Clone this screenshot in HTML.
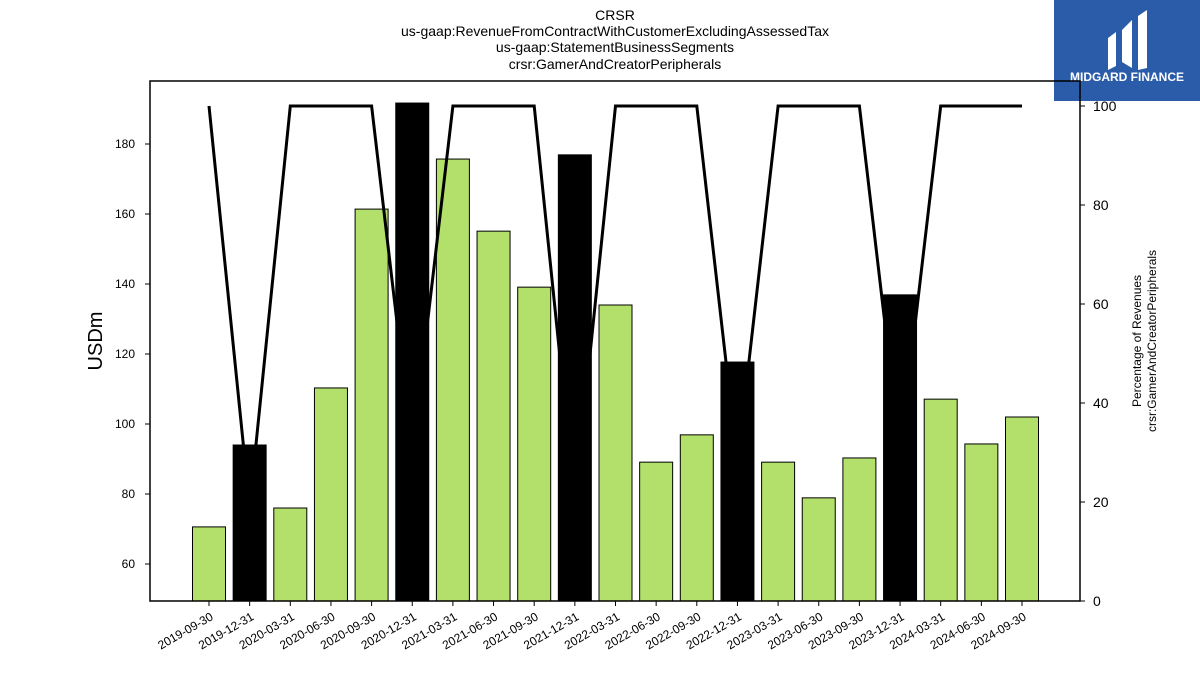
<!DOCTYPE html>
<html><head><meta charset="utf-8"><style>
body{margin:0;background:#fff;font-family:"Liberation Sans","DejaVu Sans",sans-serif}
</style></head><body>
<svg id="c" width="1200" height="675" xmlns="http://www.w3.org/2000/svg">
<g font-size="14" text-anchor="middle" fill="#000">
<text x="615" y="20">CRSR</text>
<text x="615" y="36">us-gaap:RevenueFromContractWithCustomerExcludingAssessedTax</text>
<text x="615" y="52">us-gaap:StatementBusinessSegments</text>
<text x="615" y="69">crsr:GamerAndCreatorPeripherals</text>
</g>
<g>
<rect x="1054" y="0" width="146" height="101" fill="#2a5caa"/>
<path d="M1108 38 L1116 32 L1116 66 L1108 70 Z M1122 30 L1132 20 L1132 68 L1122 62 Z M1138 16 L1147 10 L1147 68 L1138 70 Z" fill="#fff"/>
<text x="1127" y="81" font-size="12" font-weight="bold" fill="#fff" text-anchor="middle">MIDGARD FINANCE</text>
</g>
<g id="bars"></g><g id="line"></g><g id="axes"></g>
</svg>
<script>
const categories=["2019-09-30","2019-12-31","2020-03-31","2020-06-30","2020-09-30","2020-12-31","2021-03-31","2021-06-30","2021-09-30","2021-12-31","2022-03-31","2022-06-30","2022-09-30","2022-12-31","2023-03-31","2023-06-30","2023-09-30","2023-12-31","2024-03-31","2024-06-30","2024-09-30"];
const revenues=[70.6,94,76,110.3,161.4,191.7,175.7,155.1,139.1,176.9,134,89.1,96.9,117.7,89.1,78.9,90.3,136.9,107.1,94.3,102];
const percentages=[100,19,100,100,100,30,100,100,100,20,100,100,100,28,100,100,100,30,100,100,100];
const leftTicks=[60,80,100,120,140,160,180];
const rightTicks=[0,20,40,60,80,100];
const NS="http://www.w3.org/2000/svg";
const L=150,R=1080,T=81,B=601;
const yL=v=>564-(v-60)*3.5;
const yR=v=>601-v*4.95;
const xC=i=>209+i*(1022-209)/(categories.length-1);
function mk(tag,attrs,parent){const e=document.createElementNS(NS,tag);for(const k in attrs)e.setAttribute(k,attrs[k]);parent.appendChild(e);return e;}
const bars=document.getElementById('bars'),line=document.getElementById('line'),axes=document.getElementById('axes');
revenues.forEach((v,i)=>{
 const q4=categories[i].endsWith('12-31');
 const r=mk('rect',{x:xC(i)-16.5,y:yL(v),width:33,height:B-yL(v),fill:q4?'#000':'#b3df6b',stroke:'#000','stroke-width':1},bars);
 
 
});
const pl=mk('polyline',{points:percentages.map((p,i)=>xC(i)+','+yR(p)).join(' '),fill:'none',stroke:'#000','stroke-width':3},line);


const fr=mk('rect',{x:L,y:T,width:R-L,height:B-T,fill:'none',stroke:'#000','stroke-width':1.5},axes);


leftTicks.forEach(t=>{
 mk('line',{x1:L-5,x2:L,y1:yL(t),y2:yL(t),stroke:'#000'},axes);
 const tx=mk('text',{x:L-15,y:yL(t)+4,'font-size':12,'text-anchor':'end'},axes);tx.textContent=t;
 
 
});
rightTicks.forEach(t=>{
 mk('line',{x1:R,x2:R+5,y1:yR(t),y2:yR(t),stroke:'#000'},axes);
 const tx=mk('text',{x:R+13,y:yR(t)+5,'font-size':14},axes);tx.textContent=t;
 
 
});
categories.forEach((c,i)=>{
 mk('line',{x1:xC(i),x2:xC(i),y1:B,y2:B+5,stroke:'#000'},axes);
 const tx=mk('text',{x:xC(i)+5,y:B+18,'font-size':12,'text-anchor':'end',transform:`rotate(-30 ${xC(i)+5} ${B+18})`},axes);tx.textContent=c;
 
 
});
const yt=mk('text',{x:102,y:341,'font-size':20,'text-anchor':'middle',transform:'rotate(-90 102 341)'},axes);yt.textContent='USDm';


const rt=mk('text',{'font-size':12,'text-anchor':'middle',transform:'translate(1141 341) rotate(-90)'},axes);


const t1=mk('tspan',{x:0,y:0},rt);t1.textContent='Percentage of Revenues';
const t2=mk('tspan',{x:0,y:15},rt);t2.textContent='crsr:GamerAndCreatorPeripherals';
</script>
</body></html>
